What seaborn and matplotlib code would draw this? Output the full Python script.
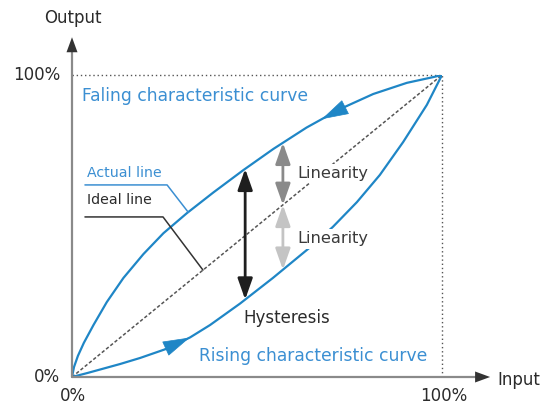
import numpy as np
import pandas as pd
import seaborn as sns
import matplotlib.pyplot as plt

sns.set_style('white')
plt.rcParams['font.family'] = ['DejaVu Sans']

# falling (upper) curve (input, output as fraction of 100%)
fall_x = [0.0, 0.0054, 0.016, 0.032, 0.058, 0.094, 0.139, 0.193, 0.247, 0.310, 0.382,
          0.463, 0.544, 0.634, 0.724, 0.814, 0.905, 0.976, 1.0]
fall_y = [0.0, 0.033, 0.070, 0.113, 0.172, 0.248, 0.328, 0.407, 0.476, 0.542, 0.611,
          0.685, 0.755, 0.826, 0.887, 0.937, 0.974, 0.993, 1.0]
# rising (lower) curve
rise_x = [0.0, 0.041, 0.130, 0.184, 0.257, 0.319, 0.373, 0.454, 0.543, 0.643, 0.705,
          0.770, 0.832, 0.895, 0.959, 1.0]
rise_y = [0.0, 0.013, 0.043, 0.063, 0.094, 0.131, 0.172, 0.243, 0.328, 0.429, 0.497,
          0.579, 0.669, 0.778, 0.901, 1.0]
ideal_x = [0.0, 1.0]
ideal_y = [0.0, 1.0]

hyst_at = 0.468
lin_at = 0.570
tick_labels = ['0%', '100%']

blue = '#1f86c6'
tblue = '#3b8fd2'
dark = '#2b2b2b'

fig = plt.figure(figsize=(5.42, 4.04), dpi=100)
ax = fig.add_axes([72 / 542, 27 / 404, 370 / 542, 302 / 404])
ax.set_xlim(0, 1)
ax.set_ylim(0, 1)
ax.axis('off')

fall = pd.DataFrame({'x': fall_x, 'y': fall_y})
rise = pd.DataFrame({'x': rise_x, 'y': rise_y})
sns.lineplot(data=fall, x='x', y='y', sort=False, color=blue, lw=1.6, ax=ax, zorder=3)
sns.lineplot(data=rise, x='x', y='y', sort=False, color=blue, lw=1.6, ax=ax, zorder=3)
ax.plot(ideal_x, ideal_y, color='#555555', lw=1.1, ls=(0, (2.2, 1.4)), zorder=2)

# dotted 100% guides
ax.plot([0, 1], [1, 1], color='#555555', lw=1, ls=(0, (1, 2)), clip_on=False)
ax.plot([1, 1], [0, 1], color='#555555', lw=1, ls=(0, (1, 2)), clip_on=False)

# axes with arrowheads
ax.plot([0, 1.1], [0, 0], color='#8a8a8a', lw=1.6, clip_on=False, zorder=4)
ax.plot([0, 0], [0, 1.09], color='#8a8a8a', lw=1.6, clip_on=False, zorder=4)
ax.annotate('', xy=(1.13, 0), xytext=(1.05, 0), annotation_clip=False,
            arrowprops=dict(arrowstyle='-|>,head_length=0.9,head_width=0.33', color='#333333',
                            lw=0, shrinkA=0, shrinkB=0, mutation_scale=12), zorder=5)
ax.annotate('', xy=(0, 1.125), xytext=(0, 1.05), annotation_clip=False,
            arrowprops=dict(arrowstyle='-|>,head_length=0.9,head_width=0.33', color='#333333',
                            lw=0, shrinkA=0, shrinkB=0, mutation_scale=12), zorder=5)

# direction arrows on the curves
def curve_arrow(xs, ys, x0, x1):
    ax.annotate('', xy=(x1, np.interp(x1, xs, ys)), xytext=(x0, np.interp(x0, xs, ys)),
                arrowprops=dict(arrowstyle='-|>,head_length=0.9,head_width=0.26', color=blue,
                                lw=0.5, shrinkA=0, shrinkB=0, mutation_scale=20), zorder=5)

curve_arrow(fall_x, fall_y, 0.76, 0.675)
curve_arrow(rise_x, rise_y, 0.24, 0.318)

# hysteresis / linearity arrows
def dbl_arrow(x, y0, y1, c):
    ax.annotate('', xy=(x, y1), xytext=(x, y0),
                arrowprops=dict(arrowstyle='<|-|>,head_length=0.85,head_width=0.3', color=c,
                                lw=2, shrinkA=0, shrinkB=0, mutation_scale=15), zorder=6)

dbl_arrow(hyst_at, np.interp(hyst_at, rise_x, rise_y), np.interp(hyst_at, fall_x, fall_y), '#1e1e1e')
dbl_arrow(lin_at, lin_at, np.interp(lin_at, fall_x, fall_y), '#8a8a8a')
dbl_arrow(lin_at, np.interp(lin_at, rise_x, rise_y), lin_at, '#c4c4c4')

# text
fs = 12
ax.text(0.027, 0.930, 'Faling characteristic curve', color=tblue, fontsize=12.3, va='center')
ax.text(0.343, 0.070, 'Rising characteristic curve', color=tblue, fontsize=12.3, va='center',
        bbox=dict(fc='white', ec='none', pad=1), zorder=4)
ax.text(0.608, 0.675, 'Linearity', color='#3a3a3a', fontsize=11.7, va='center',
        bbox=dict(fc='white', ec='none', pad=1.5), zorder=4)
ax.text(0.608, 0.457, 'Linearity', color='#3a3a3a', fontsize=11.7, va='center',
        bbox=dict(fc='white', ec='none', pad=1.5), zorder=4)
ax.text(0.462, 0.195, 'Hysteresis', color=dark, fontsize=fs, va='center')

ax.text(0.041, 0.675, 'Actual line', color=tblue, fontsize=10.2, va='center')
ax.plot([0.035, 0.257, 0.314], [0.636, 0.636, np.interp(0.314, fall_x, fall_y)],
        color=tblue, lw=1.1, zorder=4)
ax.text(0.041, 0.586, 'Ideal line', color=dark, fontsize=10.2, va='center')
ax.plot([0.035, 0.246, 0.354], [0.530, 0.530, 0.354], color='#333333', lw=1.1, zorder=4)

ax.text(-0.032, 1.0, tick_labels[1], fontsize=fs, ha='right', va='center', color=dark)
ax.text(-0.032, 0.0, tick_labels[0], fontsize=fs, ha='right', va='center', color=dark)
ax.text(0.003, -0.063, tick_labels[0], fontsize=fs, ha='center', va='center', color=dark)
ax.text(1.005, -0.063, tick_labels[1], fontsize=fs, ha='center', va='center', color=dark)
ax.text(1.149, -0.01, 'Input', fontsize=fs, ha='left', va='center', color=dark)
ax.text(0.003, 1.189, 'Output', fontsize=fs, ha='center', va='center', color=dark)

fig.savefig('out.png', dpi=100)
